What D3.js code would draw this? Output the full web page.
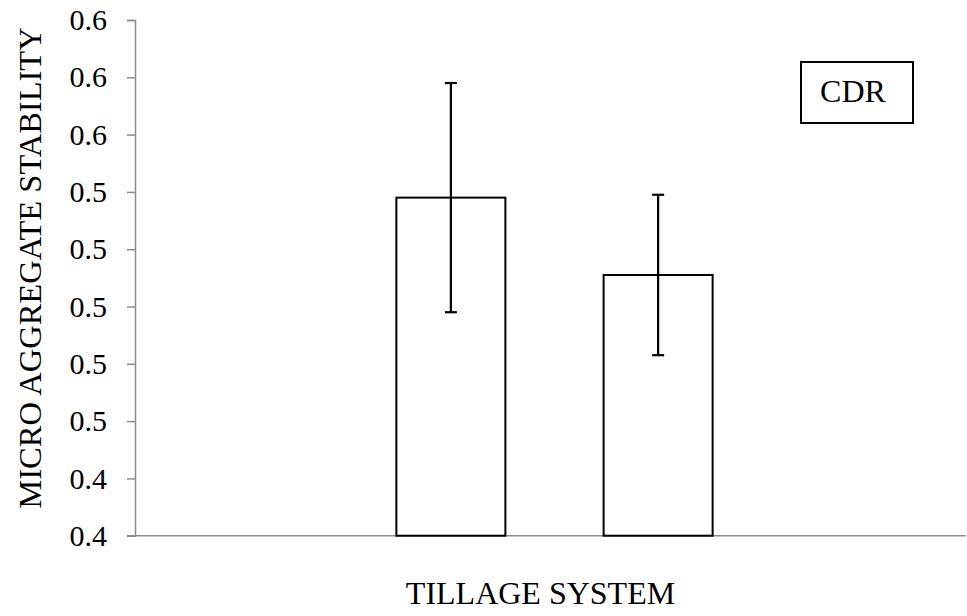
<!DOCTYPE html>
<html>
<head>
<meta charset="utf-8">
<script src="https://cdn.jsdelivr.net/npm/d3@7"></script>
<style>
  body { margin: 0; background: #fff; }
</style>
</head>
<body>
<div id="chart"></div>
<script>
// slots along the x axis (only the middle two carry bars)
var slots = ["s1", "s2", "s3", "s4"];
var means = [null, 0.538, 0.511, null];
var errors = [null, 0.040, 0.028, null];
var yTicks = [0.42, 0.44, 0.46, 0.48, 0.50, 0.52, 0.54, 0.56, 0.58, 0.60];
var legendLabel = "CDR";

var serif = "Liberation Serif";

var svgWidth = 967;
var svgHeight = 616;

var svg = d3.select("#chart")
  .append("svg")
  .attr("width", svgWidth)
  .attr("height", svgHeight);

var x0 = 135, x1 = 966;
var yBottom = 535.7, yTop = 20;

var xScale = d3.scaleBand()
  .domain(slots)
  .range([140, 969])
  .paddingInner(0.474)
  .paddingOuter(0.237);

var yScale = d3.scaleLinear()
  .domain([0.42, 0.60])
  .range([yBottom, yTop]);

// y axis
var yAxis = d3.axisLeft(yScale)
  .tickValues(yTicks)
  .tickFormat(d3.format(".1f"))
  .tickSize(8)
  .tickPadding(20);

var yG = svg.append("g")
  .attr("transform", `translate(${x0},0)`)
  .call(yAxis);
yG.select(".domain").attr("stroke", "#8c8c8c").attr("stroke-width", 1.5);
yG.selectAll(".tick line").attr("stroke", "#8c8c8c").attr("stroke-width", 1.5);
yG.selectAll(".tick text")
  .style("font-family", serif)
  .style("font-size", "30px")
  .attr("fill", "#000");

// x axis line
svg.append("line")
  .attr("x1", x0 - 8)
  .attr("x2", x1)
  .attr("y1", yBottom)
  .attr("y2", yBottom)
  .attr("stroke", "#8c8c8c")
  .attr("stroke-width", 1.5);

var data = slots.map(function(s, i) {
  return { slot: s, mean: means[i], err: errors[i] };
}).filter(function(d) { return d.mean !== null; });

// bars
svg.selectAll("rect.bar")
  .data(data)
  .enter()
  .append("rect")
  .attr("class", "bar")
  .attr("x", d => xScale(d.slot))
  .attr("y", d => yScale(d.mean))
  .attr("width", xScale.bandwidth())
  .attr("height", d => yBottom - yScale(d.mean))
  .attr("fill", "#fff")
  .attr("stroke", "#000")
  .attr("stroke-width", 2);

// error bars
var errG = svg.selectAll("g.err")
  .data(data)
  .enter()
  .append("g")
  .attr("class", "err")
  .attr("stroke", "#000")
  .attr("stroke-width", 2.2);

errG.append("line")
  .attr("x1", d => xScale(d.slot) + xScale.bandwidth() / 2)
  .attr("x2", d => xScale(d.slot) + xScale.bandwidth() / 2)
  .attr("y1", d => yScale(d.mean + d.err))
  .attr("y2", d => yScale(d.mean - d.err));

errG.append("line")
  .attr("x1", d => xScale(d.slot) + xScale.bandwidth() / 2 - 6)
  .attr("x2", d => xScale(d.slot) + xScale.bandwidth() / 2 + 6)
  .attr("y1", d => yScale(d.mean + d.err))
  .attr("y2", d => yScale(d.mean + d.err));

errG.append("line")
  .attr("x1", d => xScale(d.slot) + xScale.bandwidth() / 2 - 6)
  .attr("x2", d => xScale(d.slot) + xScale.bandwidth() / 2 + 6)
  .attr("y1", d => yScale(d.mean - d.err))
  .attr("y2", d => yScale(d.mean - d.err));

// legend box
svg.append("rect")
  .attr("x", 801)
  .attr("y", 62)
  .attr("width", 112)
  .attr("height", 61)
  .attr("fill", "#fff")
  .attr("stroke", "#000")
  .attr("stroke-width", 2);

svg.append("text")
  .attr("x", 853)
  .attr("y", 102)
  .attr("text-anchor", "middle")
  .style("font-family", serif)
  .style("font-size", "32px")
  .text(legendLabel);

// axis titles
svg.append("text")
  .attr("transform", `translate(41, 268) rotate(-90)`)
  .attr("text-anchor", "middle")
  .style("font-family", serif)
  .style("font-size", "32.5px")
  .text("MICRO AGGREGATE STABILITY");

svg.append("text")
  .attr("x", 540.5)
  .attr("y", 604)
  .attr("text-anchor", "middle")
  .style("font-family", serif)
  .style("font-size", "32px")
  .text("TILLAGE SYSTEM");
</script>
</body>
</html>
